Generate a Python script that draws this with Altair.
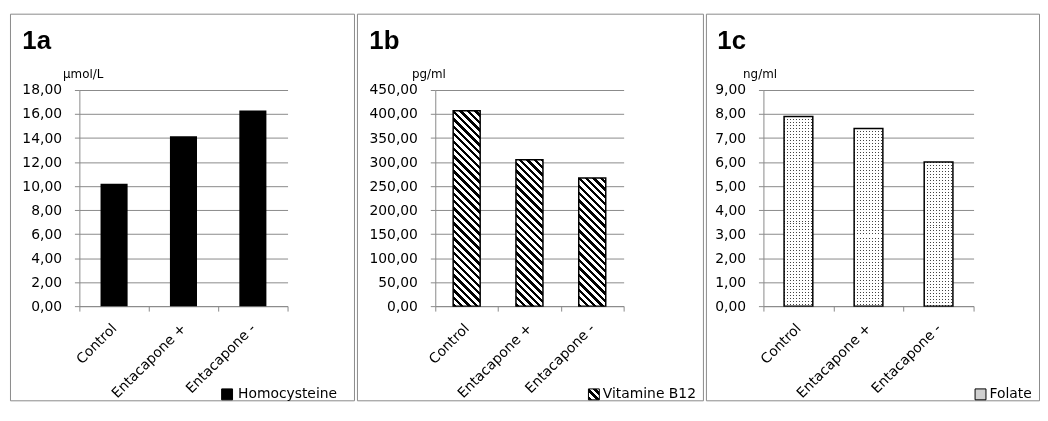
import json
import altair as alt
import pandas as pd

# ---------------- data ----------------
categories = ["Control", "Entacapone +", "Entacapone -"]
homocysteine = [10.2, 14.15, 16.3]
vitamine_b12 = [407.0, 305.0, 267.0]
folate = [7.9, 7.4, 6.0]

hcy_ticks = [0, 2, 4, 6, 8, 10, 12, 14, 16, 18]
b12_ticks = [0, 50, 100, 150, 200, 250, 300, 350, 400, 450]
fol_ticks = [0, 1, 2, 3, 4, 5, 6, 7, 8, 9]

panel_labels = ["1a", "1b", "1c"]
unit_labels = ["µmol/L", "pg/ml", "ng/ml"]
series_names = ["Homocysteine", "Vitamine B12", "Folate"]

# ---------------- layout / style ----------------
FONT = "DejaVu Sans"
GRAY = "#8a8a8a"
PANEL_H = 390
Y_TOP, Y_BOT = 77, 295

layout = [
    dict(w=347, x0=70, x1=280, frac=0.39, tx=-17, lx=212, ly=377, loff=4, px=12),
    dict(w=349, x0=79, x1=269, frac=0.43, tx=-24, lx=232, ly=377, loff=2, px=12),
    dict(w=336, x0=58, x1=270, frac=0.41, tx=-21, lx=270, ly=377, loff=2, px=11),
]


def hatch_gradient(w, h, period=7.5, dark=0.45):
    """Diagonal '\\' stripes expressed as a bbox-relative linear gradient."""
    k = (w + h) / (w * w + h * h)
    n = (w + h) / period
    stops = []
    i = 0
    while i < n:
        a = i / n
        b = min((i + dark) / n, 1.0)
        c = min((i + 1) / n, 1.0)
        stops += [
            {"offset": a, "color": "black"},
            {"offset": b, "color": "black"},
            {"offset": b, "color": "white"},
            {"offset": c, "color": "white"},
        ]
        i += 1
    return {"gradient": "linear", "x1": 0, "y1": 1, "x2": k * w, "y2": 1 - k * h, "stops": stops}


def stripe_gradient(length, pitch=3.0, dot=1.0, along_y=False, color="#444444"):
    stops = []
    i = 0
    while i * pitch < length:
        a = i * pitch / length
        b = min((i * pitch + dot) / length, 1.0)
        c = min((i + 1) * pitch / length, 1.0)
        stops += [
            {"offset": a, "color": color},
            {"offset": b, "color": color},
            {"offset": b, "color": "white"},
            {"offset": c, "color": "white"},
        ]
        i += 1
    if along_y:
        return {"gradient": "linear", "x1": 0, "y1": 0, "x2": 0, "y2": 1, "stops": stops}
    return {"gradient": "linear", "x1": 0, "y1": 0, "x2": 1, "y2": 0, "stops": stops}


def y_enc(ticks, L, unit):
    return alt.Y(
        "value:Q",
        scale=alt.Scale(domain=[0, ticks[-1]], range=[Y_BOT, Y_TOP], nice=False, zero=True),
        axis=alt.Axis(
            orient="left", offset=-L["x0"], values=ticks,
            labelExpr="replace(format(datum.value, '.2f'), '.', ',')",
            tickSize=5, tickColor=GRAY, tickWidth=1,
            domainColor=GRAY, domainWidth=1,
            grid=True, gridColor=GRAY, gridWidth=1,
            labelFont=FONT, labelFontSize=14, labelColor="black", labelPadding=13,
            labelFlush=False, labelOverlap=False,
            title=unit, titleAngle=0, titleAlign="left", titleBaseline="alphabetic",
            titleX=L["tx"], titleY=64, titleFont=FONT, titleFontSize=12,
            titleFontWeight="normal", titleColor="black",
        ),
    )


def x_enc(L, label):
    return alt.X(
        "cat:N",
        sort=categories,
        scale=alt.Scale(domain=categories, range=[L["x0"], L["x1"]], paddingInner=0, paddingOuter=0),
        axis=alt.Axis(
            orient="bottom", offset=-(PANEL_H - Y_BOT), tickBand="extent",
            tickSize=5, tickColor=GRAY, tickWidth=1, domainColor=GRAY, domainWidth=1,
            grid=False, labelAngle=-45, labelAlign="right", labelBaseline="middle",
            labelPadding=15, labelFont=FONT, labelFontSize=14, labelColor="black",
            labelOverlap=False,
            # panel label ("1a", "1b", "1c") placed at the panel's top-left corner
            title=label, titleAngle=0, titleAlign="left", titleBaseline="alphabetic",
            titleX=L["px"], titleY=35 - Y_BOT, titleFont="Liberation Sans",
            titleFontSize=26, titleFontWeight="bold", titleColor="black",
        ),
    )


def legend(L):
    return alt.Legend(
        orient="none", legendX=L["lx"], legendY=L["ly"], title=None, padding=0,
        symbolType="square", symbolSize=121, symbolStrokeColor="black", symbolStrokeWidth=1,
        symbolOpacity=1,
        labelFont=FONT, labelFontSize=14, labelColor="black", labelOffset=L["loff"],
    )


def frame(values, name):
    return pd.DataFrame({"cat": categories, "value": values, "series": [name] * len(categories)})


# ---------------- panel 1a ----------------
L = layout[0]
p1 = (
    alt.Chart(frame(homocysteine, series_names[0]))
    .mark_bar(width=alt.RelativeBandSize(L["frac"]))
    .encode(
        x=x_enc(L, panel_labels[0]),
        y=y_enc(hcy_ticks, L, unit_labels[0]),
        fill=alt.Fill("series:N", scale=alt.Scale(domain=[series_names[0]], range=["black"]), legend=legend(L)),
    )
    .properties(width=L["w"], height=PANEL_H)
)

# ---------------- panel 1b ----------------
L = layout[1]
band = (L["x1"] - L["x0"]) / len(categories)
bw = band * L["frac"]
ymax = b12_ticks[-1]
conds = []
for c, v in zip(categories, vitamine_b12):
    h = v / ymax * (Y_BOT - Y_TOP)
    conds.append({"test": "datum.cat === '%s'" % c, "value": hatch_gradient(bw, h)})
legend_hatch = {"expr": json.dumps(hatch_gradient(11, 11, period=7.5, dark=0.55))}
p2 = (
    alt.Chart(frame(vitamine_b12, series_names[1]))
    .mark_bar(width=alt.RelativeBandSize(L["frac"]), stroke="black", strokeWidth=1.5)
    .encode(
        x=x_enc(L, panel_labels[1]),
        y=y_enc(b12_ticks, L, unit_labels[1]),
        fill=alt.Fill(
            "series:N",
            scale=alt.Scale(domain=[series_names[1]], range=[legend_hatch]),
            legend=legend(L),
            condition=conds,
        ),
    )
    .properties(width=L["w"], height=PANEL_H)
)

# ---------------- panel 1c ----------------
L = layout[2]
band = (L["x1"] - L["x0"]) / len(categories)
bw = band * L["frac"]
ymax = fol_ticks[-1]
gx = stripe_gradient(bw, along_y=False)
condsy = []
for c, v in zip(categories, folate):
    h = v / ymax * (Y_BOT - Y_TOP)
    condsy.append({"test": "datum.cat === '%s'" % c, "value": stripe_gradient(h, along_y=True)})

base3 = alt.Chart(frame(folate, series_names[2])).encode(
    x=x_enc(L, panel_labels[2]), y=y_enc(fol_ticks, L, unit_labels[2])
)
c3a = base3.mark_bar(width=alt.RelativeBandSize(L["frac"])).encode(
    fill=alt.Fill(
        "series:N",
        scale=alt.Scale(domain=[series_names[2]], range=["#d0d0d0"]),
        legend=legend(L),
        condition=[{"test": "true", "value": gx}],
    )
)
c3b = base3.mark_bar(width=alt.RelativeBandSize(L["frac"]), blend="lighten").encode(
    fill=alt.Fill(condition=condsy, value="white")
)
c3c = base3.mark_bar(
    width=alt.RelativeBandSize(L["frac"]), fill="transparent", stroke="black", strokeWidth=1.5
).encode(fill=alt.value("transparent"))
p3 = alt.layer(c3a, c3b, c3c).properties(width=L["w"], height=PANEL_H)

chart = (
    alt.hconcat(p1, p2, p3, spacing=-4)
    .resolve_scale(fill="independent")
    .properties(padding={"left": -4, "top": 3, "right": 0, "bottom": 0})
    .configure(background="white")
    .configure_view(stroke=GRAY, strokeWidth=1)
)

chart.save("out.html", embed_options={"renderer": "svg", "actions": False})
